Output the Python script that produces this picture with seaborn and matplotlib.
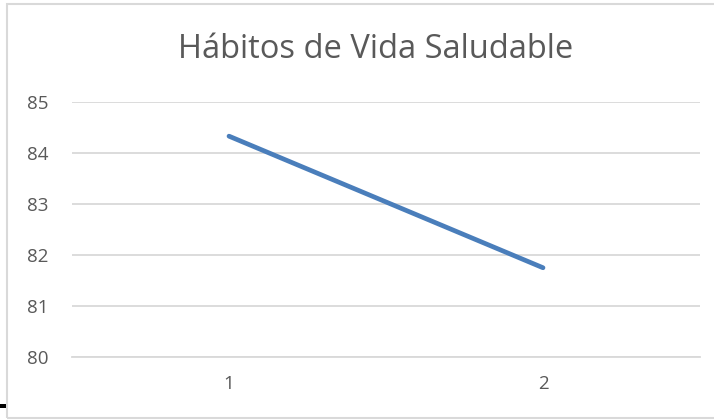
import matplotlib
matplotlib.use("Agg")
import matplotlib.pyplot as plt
import seaborn as sns
import pandas as pd
from matplotlib.patches import Rectangle

# data
categorias = [1, 2]
valores = [84.33, 81.75]
etiquetas = ["1", "2"]
y_ticks = [80, 81, 82, 83, 84, 85]

sns.set_style("white")
plt.rcParams['font.family'] = ['Open Sans', 'DejaVu Sans']

df = pd.DataFrame({"x": categorias, "y": valores})

fig = plt.figure(figsize=(7.14, 4.2), dpi=100, facecolor="white")
ax = fig.add_axes([72 / 714, 1 - 357 / 420, (700 - 72) / 714, (357 - 102) / 420])

sns.lineplot(data=df, x="x", y="y", ax=ax, color="#4a7ebb", linewidth=3.4,
             solid_capstyle="round")

ax.set_xlim(0.5, 2.5)
ax.set_ylim(80, 85)
ax.set_xticks(categorias)
ax.set_xticklabels(etiquetas)
ax.set_yticks(y_ticks)
ax.set_xlabel("")
ax.set_ylabel("")
ax.grid(axis="y", color="#d9d9d9", linewidth=1.3)
ax.set_axisbelow(True)
for s in ["top", "right", "left"]:
    ax.spines[s].set_visible(False)
ax.spines["bottom"].set_color("#d9d9d9")
ax.spines["bottom"].set_linewidth(1.3)
ax.tick_params(axis="both", length=0, labelsize=13.5, colors="#595959")
ax.tick_params(axis="y", pad=17)
ax.tick_params(axis="x", pad=13)

fig.text(376 / 714, 1 - 50 / 420, "Hábitos de Vida Saludable", ha="center", va="center",
         fontsize=23.5, color="#595959")

# chart border and the small black mark at the lower left
fig.patches.append(Rectangle((7 / 714, 2 / 420), 720 / 714, 414 / 420, transform=fig.transFigure,
                             fill=False, edgecolor="#d9d9d9", linewidth=1.5))
fig.patches.append(Rectangle((0, 1 - 408 / 420), 6 / 714, 4 / 420, transform=fig.transFigure,
                             facecolor="black", edgecolor="none"))

fig.savefig("out.png", dpi=100, facecolor="white")
